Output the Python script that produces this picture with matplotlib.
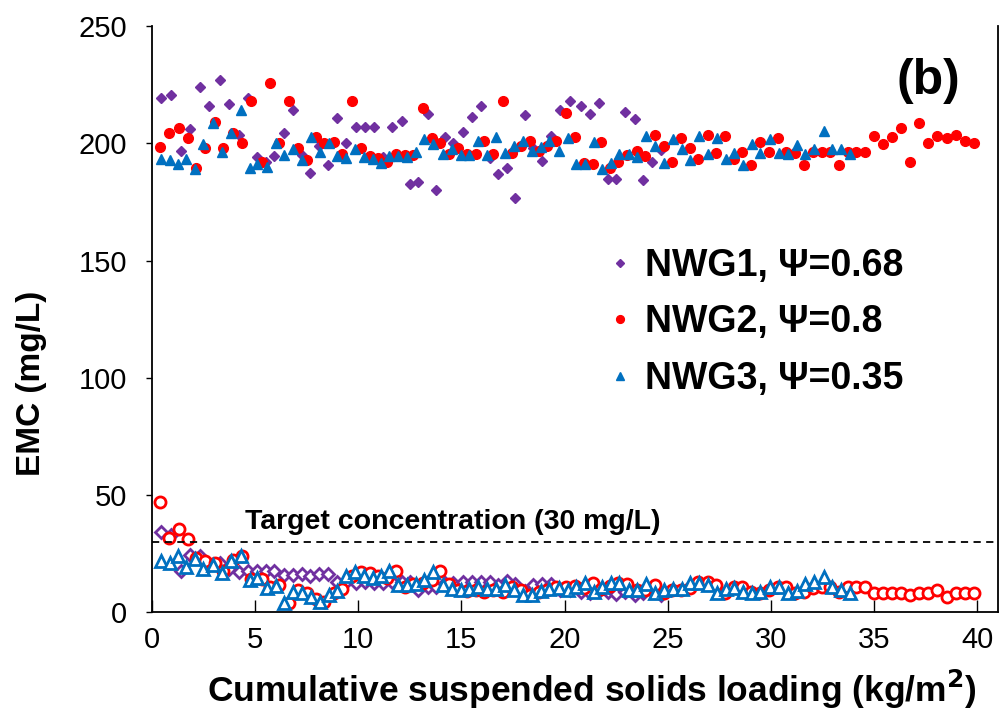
import matplotlib
matplotlib.use("Agg")
import matplotlib.pyplot as plt

plt.rcParams['font.family'] = ['Liberation Sans', 'DejaVu Sans']

# NWG1 (purple): cumulative loading, influent EMC, effluent EMC
x1 = [0.47, 0.95, 1.41, 1.84, 2.33, 2.78, 3.30, 3.75, 4.23, 4.64, 5.08, 5.53, 5.92, 6.40,
      6.84, 7.26, 7.66, 8.10, 8.54, 8.97, 9.41, 9.89, 10.33, 10.77, 11.19, 11.62, 12.11,
      12.51, 12.88, 13.37, 13.76, 14.21, 14.61, 15.07, 15.50, 15.96, 16.39, 16.80, 17.23,
      17.60, 18.06, 18.48, 18.90, 19.35, 19.79, 20.27, 20.79, 21.24, 21.68, 22.10, 22.51,
      22.94, 23.42, 23.80, 24.23, 24.67]
in1 = [219.3, 220.8, 196.6, 206.0, 224.0, 215.9, 226.9, 216.8, 203.4, 219.5, 194.2, 192.0,
       194.5, 204.3, 214.2, 195.2, 187.5, 199.0, 190.6, 211.0, 200.3, 207.1, 207.1, 207.1,
       194.0, 207.1, 209.5, 182.5, 183.4, 212.5, 180.1, 202.7, 200.3, 204.8, 211.2, 215.9,
       193.7, 187.1, 189.5, 176.8, 212.0, 198.0, 192.3, 203.3, 214.1, 217.9, 215.9, 212.7,
       217.2, 184.9, 184.9, 213.4, 210.2, 184.5, 192.0, 197.0]
out1 = [34.2, 32.8, 17.6, 24.3, 23.9, 20.3, 20.8, 18.6, 17.2, 17.6, 17.6, 17.6, 17.6, 15.8,
        15.8, 16.1, 15.5, 16.1, 16.1, 12.9, 12.9, 12.5, 12.7, 12.5, 12.5, 12.7, 12.9, 12.9,
        9.4, 10.8, 10.8, 12.5, 12.5, 12.9, 12.9, 12.9, 12.9, 11.5, 13.2, 12.0, 9.0, 11.5,
        11.8, 12.0, 9.4, 9.4, 8.7, 8.0, 9.0, 8.5, 7.7, 8.5, 7.2, 8.0, 9.0, 7.2]

# NWG2 (red)
x2 = [0.39, 0.84, 1.32, 1.76, 2.13, 2.57, 3.07, 3.46, 3.94, 4.38, 4.80, 5.32, 5.72, 6.17,
      6.63, 7.10, 7.53, 7.95, 8.34, 8.83, 9.21, 9.69, 10.14, 10.57, 10.97, 11.38, 11.83,
      12.27, 12.67, 13.13, 13.56, 13.97, 14.42, 14.86, 15.26, 15.71, 16.12, 16.55, 17.04,
      17.47, 17.90, 18.33, 18.74, 19.17, 19.59, 20.08, 20.51, 20.95, 21.36, 21.79, 22.21,
      22.61, 23.05, 23.51, 23.91, 24.36, 24.80, 25.20, 25.64, 26.06, 26.49, 26.93, 27.35,
      27.77, 28.19, 28.61, 29.05, 29.49, 29.89, 30.33, 30.75, 31.18, 31.62, 32.04, 32.48,
      32.88, 33.28, 33.72, 34.14, 34.56, 35.00, 35.44, 35.87, 36.31, 36.75, 37.18, 37.63,
      38.06, 38.51, 38.98, 39.41, 39.83]
in2 = [198.6, 204.6, 206.4, 202.4, 189.6, 198.2, 209.0, 198.2, 204.4, 200.1, 218.0, 191.9,
       225.6, 200.1, 218.0, 198.2, 193.0, 202.7, 200.1, 200.6, 195.3, 218.0, 198.2, 194.6,
       193.7, 192.0, 195.6, 195.2, 194.9, 215.1, 202.4, 200.1, 195.6, 198.2, 195.6, 195.3,
       201.1, 195.3, 217.9, 196.0, 198.8, 201.1, 196.7, 198.8, 201.1, 212.9, 202.7, 191.8,
       191.0, 200.6, 189.6, 192.0, 195.0, 196.6, 194.6, 203.4, 199.0, 192.0, 202.4, 198.2,
       193.5, 203.5, 195.9, 203.1, 193.3, 196.3, 190.9, 200.4, 196.3, 202.3, 196.3, 195.9,
       190.9, 196.3, 196.3, 196.3, 190.9, 196.3, 196.3, 196.3, 203.1, 199.7, 202.6, 206.5,
       192.0, 208.8, 200.1, 203.1, 202.4, 203.5, 201.1, 200.1]
out2 = [47.0, 31.8, 35.3, 31.4, 23.0, 22.0, 20.8, 17.5, 22.2, 23.9, 14.1, 14.1, 10.8, 11.5,
        4.1, 9.4, 8.2, 5.4, 4.4, 8.0, 9.7, 15.5, 17.2, 16.5, 15.4, 14.4, 17.6, 10.8, 11.8,
        12.5, 13.6, 17.5, 12.2, 9.4, 9.1, 9.4, 8.7, 9.4, 8.7, 10.8, 9.4, 7.2, 8.4, 9.4,
        10.8, 10.8, 11.2, 10.1, 12.5, 9.7, 11.0, 12.5, 12.2, 9.4, 9.4, 11.5, 8.0, 9.4, 9.4,
        10.1, 12.9, 12.9, 11.5, 8.0, 10.8, 10.8, 8.7, 8.0, 9.4, 10.8, 10.8, 8.0, 8.7, 10.4,
        10.8, 10.8, 8.7, 10.8, 10.8, 10.8, 8.2, 8.2, 8.2, 8.2, 7.5, 8.2, 8.2, 9.4, 6.3, 8.0,
        8.0, 8.2]

# NWG3 (blue)
x3 = [0.44, 0.86, 1.26, 1.68, 2.10, 2.49, 2.97, 3.38, 3.86, 4.30, 4.74, 5.12, 5.56, 6.01,
      6.43, 6.85, 7.27, 7.71, 8.15, 8.58, 8.99, 9.41, 9.84, 10.28, 10.70, 11.09, 11.51,
      11.95, 12.35, 12.79, 13.21, 13.64, 14.10, 14.53, 14.97, 15.37, 15.80, 16.23, 16.67,
      17.12, 17.56, 17.98, 18.41, 18.85, 19.27, 19.72, 20.16, 20.55, 20.98, 21.41, 21.81,
      22.25, 22.66, 23.10, 23.51, 23.94, 24.39, 24.83, 25.25, 25.70, 26.09, 26.51, 26.95,
      27.39, 27.81, 28.23, 28.65, 29.08, 29.49, 29.94, 30.38, 30.81, 31.25, 31.65, 32.07,
      32.56, 32.95, 33.38, 33.82]
in3 = [193.2, 192.8, 191.3, 193.2, 188.9, 199.6, 208.5, 196.3, 204.4, 214.1, 189.6, 191.2,
       189.9, 200.3, 195.2, 197.7, 192.8, 202.6, 196.3, 200.1, 194.8, 193.7, 197.7, 194.3,
       193.2, 191.6, 194.8, 194.8, 194.3, 196.3, 201.9, 199.6, 195.3, 197.7, 194.9, 194.9,
       200.9, 194.9, 202.7, 195.9, 198.7, 200.9, 196.6, 198.4, 200.9, 196.6, 202.4, 191.0,
       191.0, 200.6, 189.2, 191.6, 195.6, 195.6, 194.2, 203.0, 198.7, 191.6, 201.9, 197.7,
       193.0, 203.0, 195.3, 202.4, 193.2, 195.9, 190.6, 199.6, 195.9, 201.9, 195.9, 195.6,
       199.1, 195.6, 197.5, 205.4, 197.5, 197.5, 195.6]
out3 = [21.7, 21.0, 23.9, 19.3, 22.5, 18.3, 20.3, 16.9, 22.0, 23.9, 13.9, 14.4, 10.4, 11.1,
        4.1, 8.7, 8.0, 6.5, 4.4, 7.5, 9.1, 15.4, 17.2, 15.4, 14.4, 15.4, 17.6, 11.5, 11.5,
        12.2, 13.9, 17.2, 11.5, 9.7, 9.4, 9.7, 10.8, 9.7, 9.7, 11.5, 9.4, 7.2, 7.2, 9.1, 9.7,
        10.1, 9.4, 10.8, 12.5, 8.7, 10.8, 12.5, 12.5, 9.4, 9.4, 11.8, 8.0, 9.4, 9.7, 9.7,
        12.5, 12.5, 11.5, 8.0, 9.7, 10.4, 8.4, 8.0, 8.7, 10.8, 10.8, 8.0, 9.0, 11.8, 12.9,
        14.8, 10.8, 9.4, 8.0]

labels = ['NWG1, \u03a8=0.68', 'NWG2, \u03a8=0.8', 'NWG3, \u03a8=0.35']
colors = ['#7030A0', '#FF0000', '#0070C0']
markers = ['D', 'o', '^']
sizes = [5.5, 7, 7.5]

fig = plt.figure(figsize=(10.05, 7.27), dpi=100)
ax = fig.add_axes([0.151, 0.158, 0.842, 0.806])

series = [(x1, in1, out1), (x2, in2, out2), (x3, in3, out3)]
handles = []
for (xs, yin, yout), lab, c, m, s in zip(series, labels, colors, markers, sizes):
    h, = ax.plot(xs, yin, linestyle='none', marker=m, markersize=s, color=c,
                 markeredgecolor=c, label=lab)
    ax.plot(xs, yout, linestyle='none', marker=m, markersize=s + 1, markerfacecolor='white',
            markeredgecolor=c, markeredgewidth=2)
    handles.append(h)

ax.axhline(30, color='black', linestyle='--', linewidth=1.3, dashes=(4, 3))
ax.text(4.5, 35.5, 'Target concentration (30 mg/L)', fontsize=20.5, fontweight='bold',
        ha='left', va='baseline')
ax.text(0.955, 0.945, '(b)', transform=ax.transAxes, fontsize=36, fontweight='bold',
        ha='right', va='top')

ax.set_xlim(0, 41)
ax.set_ylim(0, 250)
ax.set_xticks(range(0, 41, 5))
ax.set_yticks(range(0, 251, 50))
ax.tick_params(axis='x', direction='in', length=9, width=1, labelsize=21, pad=10)
ax.tick_params(axis='y', direction='out', length=4, width=1, labelsize=21, pad=14)
ax.spines['top'].set_visible(False)
for sp in ['left', 'bottom', 'right']:
    ax.spines[sp].set_linewidth(1.3)

ax.set_xlabel('Cumulative suspended solids loading (kg/m$^\\mathbf{2}$)', fontsize=25.5,
              fontweight='bold')
ax.xaxis.set_label_coords(0.52, -0.095)
ax.set_ylabel('EMC (mg/L)', fontsize=24, fontweight='bold')
ax.yaxis.set_label_coords(-0.124, 0.39)

leg = ax.legend(handles=handles, loc='upper left', bbox_to_anchor=(0.536, 0.622),
                frameon=False, prop={'weight': 'bold', 'size': 27}, borderpad=0,
                borderaxespad=0, handlelength=0.8, handletextpad=0.25,
                labelspacing=0.55, markerscale=0.8)

fig.savefig('out.png', dpi=100)
